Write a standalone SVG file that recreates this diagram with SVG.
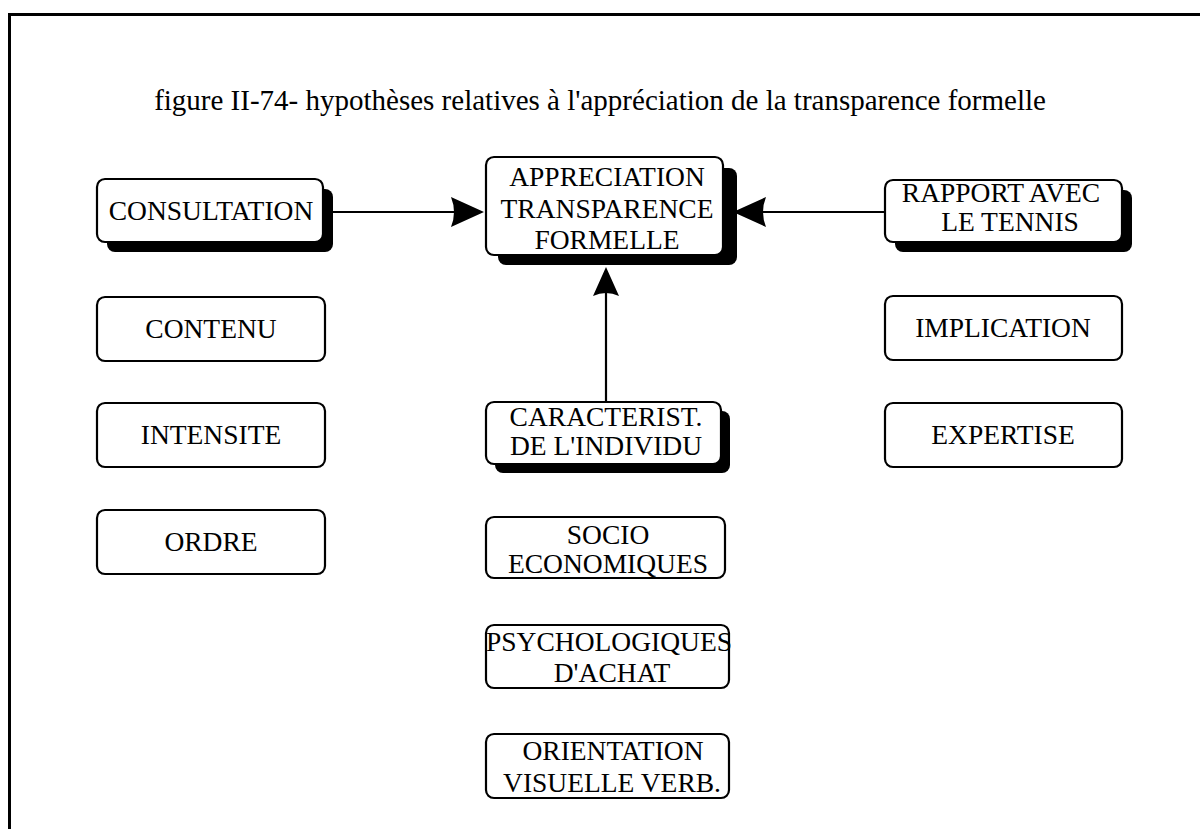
<svg xmlns="http://www.w3.org/2000/svg" width="1200" height="829" viewBox="0 0 1200 829">
  <style>
    .frame { fill: #ffffff; stroke: #000; stroke-width: 3; }
    .box { fill: #ffffff; stroke: #000; stroke-width: 2.2; }
    .shadow { fill: #000; }
    .label { font-family: "Liberation Serif", "Times New Roman", serif; font-size: 27.5px; fill: #000; text-anchor: middle; }
    .title { font-family: "Liberation Serif", "Times New Roman", serif; font-size: 29px; fill: #000; text-anchor: middle; }
    .wire { stroke: #000; stroke-width: 2.2; fill: none; }
    .head { fill: #000; }
  </style>

  <rect width="1200" height="829" fill="#ffffff"/>
  <!-- page frame, running off the right and bottom edges -->
  <rect class="frame" x="9.5" y="14.5" width="1210" height="840"/>

  <text class="title" x="600" y="110">figure II-74- hypothèses relatives à l'appréciation de la transparence formelle</text>

  <!-- connectors -->
  <g id="connectors">
    <line class="wire" x1="332" y1="212" x2="455" y2="212"/>
    <path class="head" d="M484 212 L451 197 Q457 212 451 227 Z"/>
    <line class="wire" x1="885" y1="212" x2="762" y2="212"/>
    <path class="head" d="M733 212 L766 197 Q760 212 766 227 Z"/>
    <line class="wire" x1="606" y1="402" x2="606" y2="292"/>
    <path class="head" d="M606 267 L593 296 Q606 290 619 296 Z"/>
  </g>

  <!-- left column -->
  <g id="consultation">
    <rect class="shadow" x="107" y="189" width="226" height="63" rx="8"/>
    <rect class="box" x="97" y="179" width="226" height="63" rx="8"/>
    <text class="label" x="211" y="220">CONSULTATION</text>
  </g>
  <g id="contenu">
    <rect class="box" x="97" y="297" width="228" height="64" rx="8"/>
    <text class="label" x="211" y="338">CONTENU</text>
  </g>
  <g id="intensite">
    <rect class="box" x="97" y="403" width="228" height="64" rx="8"/>
    <text class="label" x="211" y="444">INTENSITE</text>
  </g>
  <g id="ordre">
    <rect class="box" x="97" y="510" width="228" height="64" rx="8"/>
    <text class="label" x="211" y="551">ORDRE</text>
  </g>

  <!-- centre column -->
  <g id="appreciation">
    <rect class="shadow" x="498" y="168" width="239" height="97" rx="8"/>
    <rect class="box" x="486" y="157" width="237" height="98" rx="8"/>
    <text class="label" x="607" y="186">APPRECIATION</text>
    <text class="label" x="607" y="218">TRANSPARENCE</text>
    <text class="label" x="607" y="249">FORMELLE</text>
  </g>
  <g id="caracterist">
    <rect class="shadow" x="495" y="411" width="235" height="62" rx="8"/>
    <rect class="box" x="486" y="402" width="235" height="62" rx="8"/>
    <text class="label" x="606" y="426">CARACTERIST.</text>
    <text class="label" x="606" y="455">DE L'INDIVIDU</text>
  </g>
  <g id="socio">
    <rect class="box" x="486" y="517" width="239" height="61" rx="8"/>
    <text class="label" x="608" y="544">SOCIO</text>
    <text class="label" x="608" y="573">ECONOMIQUES</text>
  </g>
  <g id="psychologiques">
    <rect class="box" x="486" y="625" width="243" height="63" rx="8"/>
    <text class="label" x="609" y="651">PSYCHOLOGIQUES</text>
    <text class="label" x="612" y="682">D'ACHAT</text>
  </g>
  <g id="orientation">
    <rect class="box" x="486" y="734" width="243" height="64" rx="8"/>
    <text class="label" x="613" y="760">ORIENTATION</text>
    <text class="label" x="612" y="792">VISUELLE VERB.</text>
  </g>

  <!-- right column -->
  <g id="rapport">
    <rect class="shadow" x="895" y="190" width="237" height="62" rx="8"/>
    <rect class="box" x="885" y="180" width="237" height="62" rx="8"/>
    <text class="label" x="1001" y="202">RAPPORT AVEC</text>
    <text class="label" x="1010" y="231">LE TENNIS</text>
  </g>
  <g id="implication">
    <rect class="box" x="885" y="296" width="237" height="64" rx="8"/>
    <text class="label" x="1003" y="337">IMPLICATION</text>
  </g>
  <g id="expertise">
    <rect class="box" x="885" y="403" width="237" height="64" rx="8"/>
    <text class="label" x="1003" y="444">EXPERTISE</text>
  </g>
</svg>
